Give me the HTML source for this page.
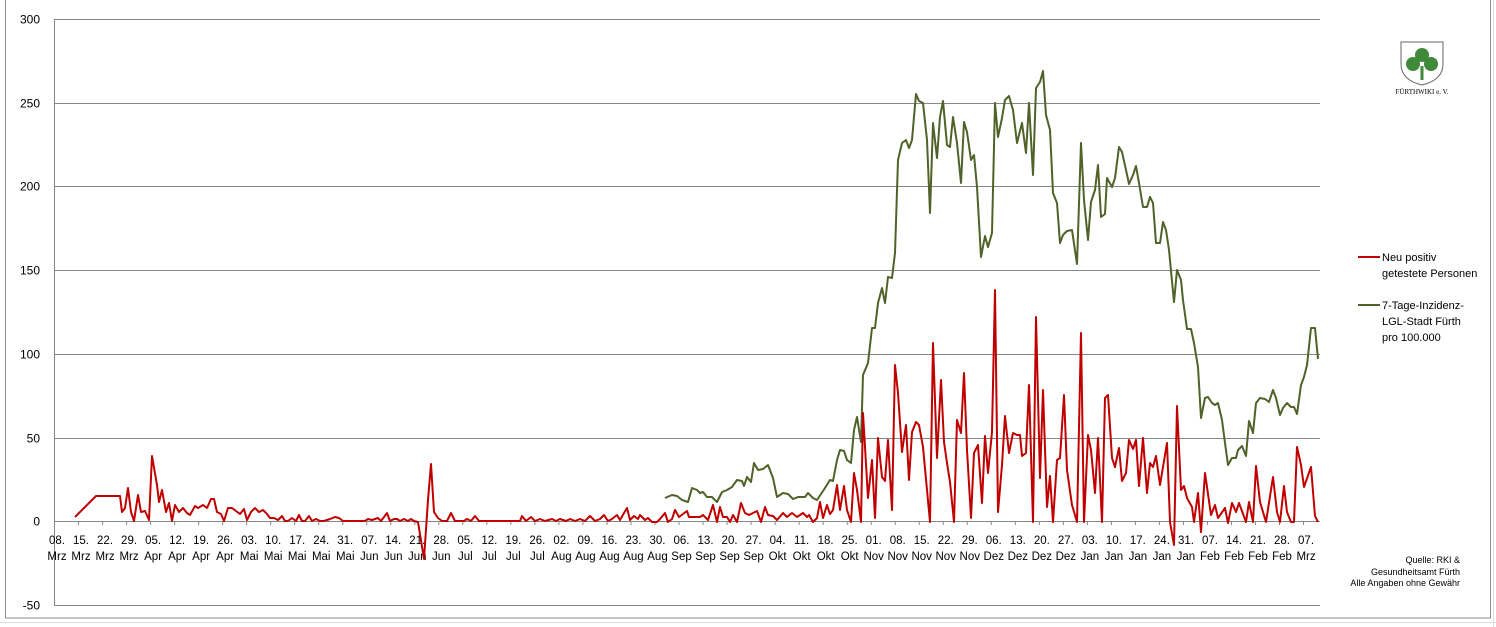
<!DOCTYPE html>
<html><head><meta charset="utf-8"><style>
html,body{margin:0;padding:0;background:#fff;}
svg{display:block;font-family:"Liberation Sans",sans-serif;}
</style></head><body>
<svg id="s" width="1496" height="627" viewBox="0 0 1496 627" xmlns="http://www.w3.org/2000/svg">
<rect x="0" y="0" width="1496" height="627" fill="#fff"/>
<g stroke="#dadcdd" stroke-width="1">
<line x1="0" y1="622.5" x2="1496" y2="622.5"/>
<line x1="1493.5" y1="0" x2="1493.5" y2="627"/>
</g>
<rect x="5.5" y="-2" width="1485" height="620" fill="#fff" stroke="#8c8c8c" stroke-width="1"/>
<g id="grid" stroke="#868686" stroke-width="1"></g>
<line x1="54.5" y1="19" x2="54.5" y2="605" stroke="#868686"/>
<g id="ylab" font-size="12" fill="#000" text-anchor="end"></g>
<g id="xlab" font-size="11.5" fill="#000" text-anchor="middle"></g>
<polyline id="green" fill="none" stroke="#4f6228" stroke-width="2" stroke-linejoin="round"/>
<polyline id="red" fill="none" stroke="#c00000" stroke-width="2" stroke-linejoin="round"/>
<line x1="1358" y1="257" x2="1380" y2="257" stroke="#c00000" stroke-width="2"/>
<text x="1382" y="261" font-size="11">Neu positiv</text>
<text x="1382" y="277" font-size="11">getestete Personen</text>
<line x1="1358" y1="305" x2="1380" y2="305" stroke="#4f6228" stroke-width="2"/>
<text x="1382" y="309" font-size="11">7-Tage-Inzidenz-</text>
<text x="1382" y="325" font-size="11">LGL-Stadt Fürth</text>
<text x="1382" y="341" font-size="11">pro 100.000</text>
<g transform="translate(1401,42)">
<path d="M0,0 H42 V22 Q42,38 21,43 Q0,38 0,22 Z" fill="#fff" stroke="#666" stroke-width="1"/>
<circle cx="21" cy="13" r="7" fill="#3f8a3a"/>
<circle cx="12" cy="22" r="7" fill="#3f8a3a"/>
<circle cx="30" cy="22" r="7" fill="#3f8a3a"/>
<rect x="19.5" y="24" width="3" height="14" fill="#3f8a3a"/>
</g>
<text x="1422" y="94" font-size="7" text-anchor="middle" font-family="Liberation Serif,serif">FÜRTHWIKI e. V.</text>
<g font-size="9" text-anchor="end">
<text x="1460" y="563">Quelle: RKI &amp;</text>
<text x="1460" y="575">Gesundheitsamt Fürth</text>
<text x="1460" y="586">Alle Angaben ohne Gewähr</text>
</g>
</svg>
<script>
var ns="http://www.w3.org/2000/svg";
function el(t,a,p,txt){var e=document.createElementNS(ns,t);for(var k in a)e.setAttribute(k,a[k]);if(txt!==undefined)e.textContent=txt;document.getElementById(p).appendChild(e);return e;}
for(var i=0;i<8;i++){var v=300-50*i;var y=19+i*83.71;y=Math.round(y)+0.5;
el("line",{x1:54,y1:y,x2:1320,y2:y},"grid");
el("text",{x:40,y:y+4},"ylab",String(v));}
for(var k=0;k<53;k++){var x=54.5+24.02*k;el("line",{x1:x,y1:521,x2:x,y2:525},"grid");}
var d=new Date(2020,2,8);var mon=["Jan","Feb","Mrz","Apr","Mai","Jun","Jul","Aug","Sep","Okt","Nov","Dez"];
for(var k=0;k<53;k++){var dd=new Date(d.getTime()+k*7*86400000+3600000*12);var x=57+24.02*k;
var day=("0"+dd.getDate()).slice(-2)+".";
el("text",{x:x,y:544},"xlab",day);el("text",{x:x,y:560},"xlab",mon[dd.getMonth()]);}
var green="665,498 672,495 677,496 682,500 688,502 692,488 697,490 700,493 703,492 707,497 712,497 717,502 722,492 727,490 732,487 737,480 742,481 744,486 747,477 751,482 754,463 758,470 763,469 768,465 773,478 777,497 783,493 788,494 793,499 798,497 805,497 808,493 813,498 817,500 825,488 830,480 833,481 837,460 840,450 844,451 847,460 851,463 854,430 857,417 861,442 863,375 868,363 872,328 875,328 878,303 882,288 885,303 888,277 892,278 895,253 898,160 902,143 906,140 909,148 912,140 916,94 919,101 923,103 927,140 930,213 933,123 937,158 940,117 943,101 947,145 950,147 953,117 957,143 961,183 964,122 967,132 971,160 974,155 977,187 981,257 985,236 988,247 992,233 995,103 998,137 1002,118 1005,100 1009,96 1013,110 1017,143 1022,123 1026,153 1029,103 1033,175 1036,88 1040,82 1043,71 1046,115 1050,130 1053,193 1057,203 1060,243 1063,235 1067,231 1072,230 1077,264 1081,143 1084,200 1088,240 1091,202 1095,190 1098,165 1101,217 1105,214 1107,178 1112,187 1115,178 1119,147 1122,152 1126,170 1129,184 1133,175 1136,166 1139,183 1143,207 1147,207 1150,197 1153,203 1156,243 1160,243 1163,222 1166,230 1169,250 1174,302 1177,270 1181,280 1183,300 1187,329 1191,329 1194,343 1198,367 1201,418 1205,398 1208,397 1212,403 1215,405 1218,403 1222,420 1225,443 1228,465 1232,458 1236,458 1238,450 1242,446 1246,456 1249,421 1253,433 1256,403 1260,398 1265,399 1269,402 1273,390 1276,398 1280,415 1283,408 1287,403 1291,407 1294,407 1297,414 1301,385 1304,377 1307,365 1311,328 1315,328 1318,359";
var red="75,517 96,496 120,496 122,512 125,508 128,488 131,512 134,521 138,495 141,512 145,511 149,520 152,456 157,485 159,502 162,490 166,512 169,503 172,521 175,505 179,512 183,508 187,513 190,515 195,506 198,508 203,505 207,508 211,499 214,499 217,512 221,514 224,521 228,508 232,508 236,511 240,514 244,509 247,520 251,512 255,508 259,512 263,510 267,514 270,518 274,518 278,520 282,516 285,521 288,521 292,518 296,521 299,515 302,521 305,521 309,516 312,521 316,519 320,521 324,521 330,519 335,517 339,518 343,521 355,521 365,521 368,519 372,520 378,518 381,521 384,517 387,513 390,521 394,519 397,519 400,521 404,519 408,521 411,519 414,521 418,522 424,559 428,500 431,464 434,512 438,518 442,521 447,521 451,513 455,521 460,521 464,521 467,519 471,521 475,516 479,521 483,521 520,521 522,516 526,521 531,517 535,521 540,519 545,521 552,519 556,521 560,519 566,521 570,519 575,521 580,519 585,521 590,516 595,521 600,519 604,515 608,521 612,519 617,515 620,520 624,513 627,508 630,520 634,516 638,519 640,515 645,520 648,518 652,522 657,522 660,519 665,513 668,522 672,519 675,510 679,517 687,511 689,517 700,517 703,515 708,520 713,505 717,522 720,507 723,517 727,517 730,522 733,515 737,522 741,503 745,513 749,515 757,511 761,522 765,507 768,515 773,516 777,520 783,513 787,517 792,513 797,517 803,513 807,517 809,515 813,522 817,518 820,502 823,518 827,505 830,514 833,510 837,485 840,510 844,486 847,510 851,522 854,473 857,490 861,522 863,413 868,498 872,460 875,518 878,438 882,477 885,481 888,440 892,510 895,365 898,393 902,452 906,425 909,480 912,432 916,422 919,425 923,447 927,490 930,522 933,343 937,458 941,380 944,442 947,463 950,482 954,522 957,420 961,433 964,373 967,450 971,518 974,453 978,445 982,503 985,436 988,473 992,432 995,290 998,512 1002,465 1005,416 1009,453 1013,433 1017,435 1020,435 1022,456 1026,453 1029,385 1033,522 1036,317 1040,478 1043,390 1047,507 1050,476 1053,522 1057,460 1060,458 1064,395 1067,470 1072,505 1077,522 1081,333 1084,522 1088,435 1091,450 1095,493 1098,438 1102,522 1105,398 1108,395 1112,458 1115,467 1119,448 1122,481 1126,473 1129,440 1133,449 1136,440 1139,486 1143,438 1147,493 1150,463 1153,467 1156,456 1160,485 1163,467 1167,443 1170,522 1174,545 1177,406 1181,490 1184,486 1187,498 1192,507 1194,522 1198,493 1201,532 1205,473 1211,515 1215,505 1218,518 1225,508 1228,523 1232,503 1236,512 1239,503 1246,522 1249,502 1253,522 1256,466 1260,502 1266,522 1273,477 1277,512 1280,522 1284,486 1287,512 1291,522 1294,522 1297,447 1301,465 1304,487 1311,467 1315,516 1318,522";
document.getElementById("green").setAttribute("points",green);
document.getElementById("red").setAttribute("points",red);
</script>
</body></html>
